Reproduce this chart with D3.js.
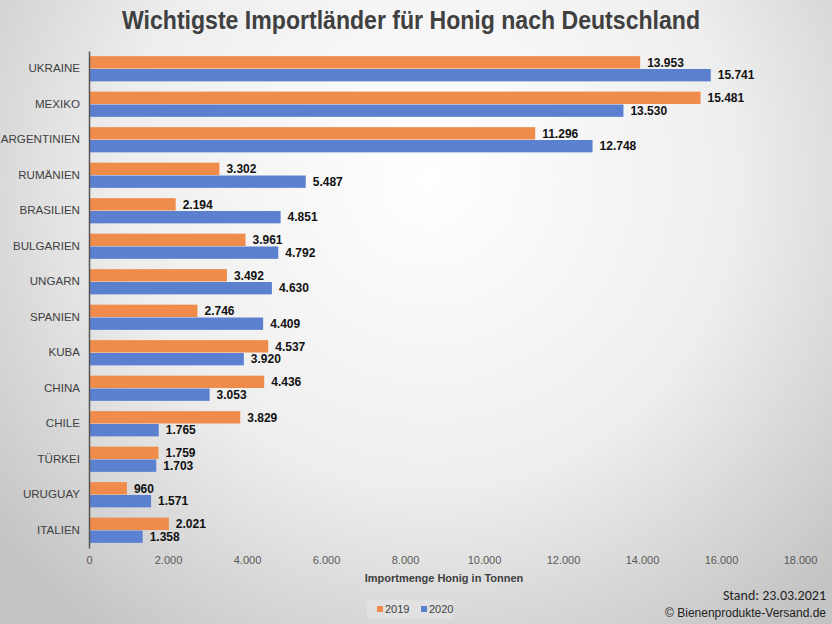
<!DOCTYPE html>
<html><head><meta charset="utf-8">
<script src="https://cdn.jsdelivr.net/npm/d3@7"></script>
<style>html,body{margin:0;padding:0;}svg{display:block;}</style>
</head><body>
<script>
const categories = ["UKRAINE","MEXIKO","ARGENTINIEN","RUMÄNIEN","BRASILIEN","BULGARIEN","UNGARN","SPANIEN","KUBA","CHINA","CHILE","TÜRKEI","URUGUAY","ITALIEN"];
const values2019 = [13953,15481,11296,3302,2194,3961,3492,2746,4537,4436,3829,1759,960,2021];
const values2020 = [15741,13530,12748,5487,4851,4792,4630,4409,3920,3053,1765,1703,1571,1358];
const seriesNames = ["2019","2020"];
const xTicks = [0,2000,4000,6000,8000,10000,12000,14000,16000,18000];

const W=832,H=624;
const colors={"2019":"#F08C4B","2020":"#5B80D0"};
const svg=d3.select("body").append("svg").attr("width",W).attr("height",H);
const defs=svg.append("defs");
const rg=defs.append("radialGradient").attr("id","bg").attr("gradientUnits","userSpaceOnUse")
  .attr("cx",430).attr("cy",180).attr("r",560);
rg.append("stop").attr("offset","0%").attr("stop-color","#ffffff");
rg.append("stop").attr("offset","55%").attr("stop-color","#eeeeee");
rg.append("stop").attr("offset","100%").attr("stop-color","#c4c4c4");
svg.append("rect").attr("width",W).attr("height",H).attr("fill","url(#bg)");

const fmt=v=>d3.format(",")(v).replace(/,/g,".");
const x=d3.scaleLinear().domain([0,18000]).range([89,800]);
const y=d3.scaleBand().domain(categories).range([51,548]).paddingInner(0.29).paddingOuter(0.145);
const ys=d3.scaleBand().domain(seriesNames).range([0,y.bandwidth()]).paddingInner(0.04);

svg.append("text").attr("x",411).attr("y",29).attr("text-anchor","middle")
  .attr("font-family","'Liberation Sans Narrow',Arial,sans-serif")
  .attr("font-stretch","condensed").attr("font-weight","bold").attr("font-size",25).attr("fill","#404040")
  .attr("textLength",578).attr("lengthAdjust","spacingAndGlyphs")
  .text("Wichtigste Importländer für Honig nach Deutschland");

const data=[];
categories.forEach((c,i)=>{data.push({c,s:"2019",v:values2019[i]});data.push({c,s:"2020",v:values2020[i]});});

svg.append("g").selectAll("rect").data(data).join("rect")
  .attr("x",x(0)).attr("y",d=>y(d.c)+ys(d.s)).attr("width",d=>x(d.v)-x(0)).attr("height",ys.bandwidth())
  .attr("fill",d=>colors[d.s]);

svg.append("g").selectAll("text").data(data).join("text")
  .attr("x",d=>x(d.v)+7).attr("y",d=>y(d.c)+ys(d.s)+ys.bandwidth()/2).attr("dy","0.36em")
  .attr("font-family","Arial,'Liberation Sans',sans-serif").attr("font-weight","bold").attr("font-size",12).attr("fill","#111")
  .text(d=>fmt(d.v));

// category axis
const yAxis=d3.axisLeft(y).tickSize(0).tickPadding(9);
const gy=svg.append("g").attr("transform",`translate(${x(0)},0)`).call(yAxis);
gy.select(".domain").attr("stroke","#555").attr("stroke-width",1.5);
gy.selectAll("text").attr("font-family","Arial,'Liberation Sans',sans-serif").attr("font-size",11.6).attr("fill","#404040");

// value axis
const xAxis=d3.axisBottom(x).tickValues(xTicks).tickSize(0).tickPadding(0).tickFormat(fmt);
const gx=svg.append("g").attr("transform","translate(0,556)").call(xAxis);
gx.select(".domain").remove();
gx.selectAll("text").attr("font-family","Arial,'Liberation Sans',sans-serif").attr("font-size",11).attr("fill","#595959");

svg.append("text").attr("x",444).attr("y",582).attr("text-anchor","middle")
  .attr("font-family","Arial,'Liberation Sans',sans-serif").attr("font-weight","bold").attr("font-size",11).attr("fill","#404040")
  .text("Importmenge Honig in Tonnen");

// legend
svg.append("rect").attr("x",367).attr("y",600).attr("width",86).attr("height",19).attr("fill","#e2e2e2").attr("opacity",0.8);
const lg=svg.append("g");
seriesNames.forEach((s,i)=>{
  const lx=377+i*44;
  lg.append("rect").attr("x",lx).attr("y",606).attr("width",6).attr("height",6).attr("fill",colors[s]);
  lg.append("text").attr("x",lx+8).attr("y",613).attr("font-family","Arial,'Liberation Sans',sans-serif")
    .attr("font-size",11).attr("fill","#404040").text(s);
});

svg.append("text").attr("x",826).attr("y",600).attr("text-anchor","end")
  .attr("font-family","Carlito,'Open Sans',sans-serif").attr("font-size",14).attr("fill","#222").text("Stand: 23.03.2021");
svg.append("text").attr("x",826).attr("y",617).attr("text-anchor","end")
  .attr("font-family","Arial,'Liberation Sans',sans-serif").attr("font-size",12).attr("fill","#222").text("© Bienenprodukte-Versand.de");
</script>
</body></html>
